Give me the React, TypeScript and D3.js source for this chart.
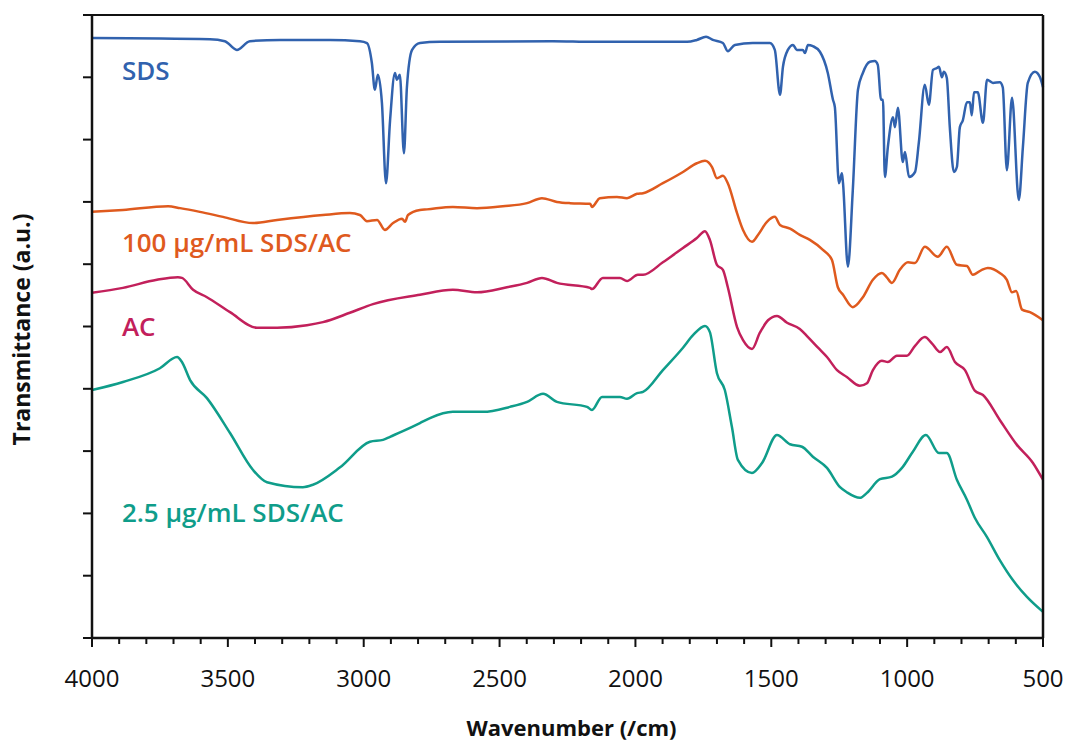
import React from "react";
import * as d3 from "d3";

const width = 1067;
const height = 744;
const margin = { top: 15, right: 24, bottom: 106, left: 92 };

// [wavenumber (/cm), transmittance (a.u.)]
const sds: [number, number][] = [
  [4000, 96.3], [3566, 96.1], [3511, 95.8], [3467, 94.4], [3419, 95.8], [3308, 96.0],
  [3124, 96.0], [3014, 95.8], [2988, 95.5], [2970, 92.3], [2959, 88.0], [2948, 90.4],
  [2933, 85.9], [2918, 73.0], [2903, 83.1], [2885, 90.7], [2878, 89.6], [2867, 90.4],
  [2852, 77.8], [2841, 88.4], [2822, 94.4], [2793, 95.5], [2719, 95.7], [2304, 95.8],
  [2156, 95.7], [1810, 95.7], [1774, 96.0], [1740, 96.5], [1715, 96.0], [1678, 95.5],
  [1660, 94.2], [1634, 95.2], [1568, 95.5], [1505, 95.5], [1487, 94.4], [1468, 87.2],
  [1457, 91.7], [1439, 94.4], [1420, 95.2], [1406, 94.4], [1384, 94.4], [1376, 93.9],
  [1365, 95.2], [1347, 95.0], [1321, 94.1], [1292, 90.7], [1273, 86.4], [1266, 85.2],
  [1251, 73.0], [1240, 74.6], [1236, 73.0], [1218, 59.6], [1200, 71.9], [1181, 88.0],
  [1163, 90.7], [1137, 92.5], [1119, 92.6], [1108, 92.0], [1096, 86.4], [1089, 86.4],
  [1082, 74.0], [1071, 78.8], [1052, 83.6], [1045, 82.0], [1034, 85.1], [1016, 76.4],
  [1008, 78.0], [993, 74.0], [971, 74.8], [957, 79.5], [935, 88.8], [920, 85.6],
  [905, 91.2], [890, 91.5], [883, 91.7], [872, 90.0], [865, 90.9], [854, 89.9],
  [843, 82.0], [828, 74.8], [817, 75.6], [806, 82.0], [795, 83.1], [780, 86.0],
  [769, 86.0], [762, 83.9], [754, 87.6], [740, 87.6], [721, 82.7], [706, 89.6],
  [684, 89.1], [659, 89.2], [648, 88.4], [633, 75.1], [614, 86.7], [589, 70.3],
  [574, 78.8], [556, 89.1], [530, 90.9], [511, 90.0], [500, 88.4],
];

const sdsAc100: [number, number][] = [
  [4000, 68.4], [3886, 68.7], [3720, 69.3], [3676, 69.0], [3603, 68.4], [3518, 67.6],
  [3408, 66.6], [3319, 67.1], [3150, 67.9], [3051, 68.2], [3014, 67.9], [2988, 66.9],
  [2951, 67.1], [2922, 65.5], [2892, 66.6], [2859, 67.3], [2848, 66.8], [2837, 67.9],
  [2793, 68.7], [2767, 68.8], [2672, 69.2], [2583, 69.0], [2488, 69.3], [2399, 69.8],
  [2344, 70.6], [2289, 70.0], [2241, 69.8], [2167, 69.7], [2160, 69.2], [2131, 70.6],
  [2068, 70.8], [2031, 70.6], [1994, 71.3], [1972, 71.4], [1899, 73.0], [1825, 74.8],
  [1774, 76.2], [1744, 76.6], [1718, 75.6], [1700, 73.8], [1678, 74.2], [1660, 73.0],
  [1626, 68.2], [1604, 65.5], [1571, 63.6], [1549, 64.7], [1516, 66.8], [1487, 67.6],
  [1468, 66.3], [1431, 65.7], [1395, 64.7], [1358, 63.9], [1310, 62.3], [1277, 60.7],
  [1255, 56.3], [1236, 55.1], [1200, 53.1], [1163, 54.7], [1126, 57.5], [1093, 58.6],
  [1075, 57.9], [1056, 57.0], [1027, 59.1], [997, 60.3], [971, 60.2], [935, 62.8],
  [887, 61.2], [854, 62.8], [817, 59.9], [780, 59.7], [758, 58.3], [725, 59.1],
  [703, 59.4], [659, 58.6], [633, 57.5], [614, 55.5], [599, 55.7], [577, 52.7],
  [548, 52.3], [500, 51.0],
];

const ac: [number, number][] = [
  [4000, 55.4], [3886, 56.2], [3761, 57.5], [3684, 57.9], [3669, 57.8], [3628, 55.9],
  [3577, 54.7], [3492, 52.3], [3393, 49.8], [3319, 49.8], [3209, 50.2], [3150, 50.7],
  [3051, 52.2], [2966, 53.6], [2793, 55.1], [2672, 55.9], [2583, 55.5], [2473, 56.3],
  [2399, 57.0], [2344, 57.8], [2289, 57.0], [2167, 56.2], [2160, 56.0], [2120, 57.8],
  [2057, 57.8], [2031, 57.3], [1991, 58.3], [1972, 58.3], [1899, 60.3], [1825, 62.6],
  [1774, 64.2], [1744, 65.3], [1726, 63.9], [1700, 59.9], [1678, 59.1], [1660, 56.3],
  [1626, 49.9], [1604, 47.8], [1571, 46.4], [1542, 49.0], [1512, 51.0], [1479, 51.7],
  [1442, 50.6], [1395, 49.6], [1365, 48.3], [1328, 46.6], [1295, 45.1], [1258, 43.0],
  [1222, 41.9], [1174, 40.5], [1148, 40.9], [1126, 43.0], [1093, 44.5], [1071, 44.3],
  [1038, 45.3], [1001, 45.3], [971, 46.9], [935, 48.3], [909, 47.3], [879, 45.9],
  [854, 46.7], [824, 44.3], [787, 43.0], [751, 39.7], [721, 39.0], [659, 35.0],
  [596, 31.0], [537, 28.1], [500, 25.4],
];

const sdsAc25: [number, number][] = [
  [4000, 39.8], [3886, 41.1], [3750, 43.3], [3687, 45.1], [3669, 44.3], [3639, 41.4],
  [3577, 38.5], [3492, 32.9], [3408, 27.0], [3356, 25.0], [3224, 24.2], [3187, 24.6],
  [3087, 27.4], [2977, 31.5], [2929, 31.8], [2903, 32.3], [2856, 33.2], [2793, 34.5],
  [2756, 35.3], [2672, 36.3], [2561, 36.3], [2462, 37.1], [2399, 37.9], [2340, 39.2],
  [2289, 37.9], [2178, 37.1], [2160, 36.6], [2123, 38.7], [2057, 38.7], [2031, 38.4],
  [1994, 39.3], [1972, 39.5], [1899, 43.0], [1825, 46.6], [1788, 48.6], [1744, 50.1],
  [1726, 49.1], [1700, 42.5], [1671, 39.8], [1645, 33.9], [1623, 28.6], [1571, 26.5],
  [1534, 28.1], [1479, 32.6], [1431, 31.1], [1387, 30.7], [1347, 29.1], [1295, 27.3],
  [1247, 24.2], [1222, 23.4], [1174, 22.5], [1148, 23.3], [1100, 25.5], [1056, 25.9],
  [1019, 27.3], [979, 29.9], [931, 32.6], [883, 29.7], [854, 29.7], [817, 25.4],
  [780, 22.2], [751, 19.3], [706, 16.2], [659, 12.5], [611, 9.3], [559, 6.6],
  [500, 4.2],
];

const seriesNames = ["SDS", "100 µg/mL SDS/AC", "AC", "2.5 µg/mL SDS/AC"];
const seriesData = [sds, sdsAc100, ac, sdsAc25];
const seriesColors = ["#3162ae", "#df5a1e", "#c2205b", "#0f9d8a"];
// label anchor in data units [wavenumber, transmittance]
const labelPos: [number, number][] = [[3890, 89.5], [3890, 62.0], [3890, 48.4], [3890, 18.6]];

const xTicks = [4000, 3500, 3000, 2500, 2000, 1500, 1000, 500];
const xMinorTicks = d3.range(500, 4001, 100);
const yTicks = d3.range(0, 101, 10);

const font = "'Open Sans', 'Noto Sans', sans-serif";

export default function App() {
  const iw = width - margin.left - margin.right;
  const ih = height - margin.top - margin.bottom;
  const x = d3.scaleLinear().domain([4000, 500]).range([0, iw]);
  const y = d3.scaleLinear().domain([0, 100]).range([ih, 0]);
  const line = d3
    .line<[number, number]>()
    .x((d) => x(d[0]))
    .y((d) => y(d[1]))
    .curve(d3.curveMonotoneX);

  return (
    <svg
      width={width}
      height={height}
      style={{ position: "absolute", left: 0, top: 0, background: "#fff" }}
    >
      <g transform={`translate(${margin.left},${margin.top})`}>
        {seriesData.map((s, i) => (
          <path
            key={seriesNames[i]}
            d={line(s) || ""}
            fill="none"
            stroke={seriesColors[i]}
            strokeWidth={2.5}
            strokeLinejoin="round"
          />
        ))}
        {seriesNames.map((n, i) => (
          <text
            key={n}
            x={x(labelPos[i][0])}
            y={y(labelPos[i][1])}
            fill={seriesColors[i]}
            fontFamily={font}
            fontWeight={600}
            fontSize={26}
          >
            {n}
          </text>
        ))}

        {/* frame */}
        <line x1={0} x2={iw} y1={0} y2={0} stroke="#111" strokeWidth={2} />
        <line x1={iw} x2={iw} y1={0} y2={ih} stroke="#111" strokeWidth={2.5} />
        <line x1={0} x2={0} y1={0} y2={ih} stroke="#111" strokeWidth={2.5} />
        <line x1={0} x2={iw} y1={ih} y2={ih} stroke="#111" strokeWidth={2.5} />

        {yTicks.map((t) => (
          <line key={t} x1={-9} x2={0} y1={y(t)} y2={y(t)} stroke="#111" strokeWidth={2} />
        ))}
        {xMinorTicks.map((t) => (
          <line
            key={t}
            x1={x(t)}
            x2={x(t)}
            y1={ih}
            y2={ih + (t % 500 === 0 ? 9 : 6)}
            stroke="#111"
            strokeWidth={2}
          />
        ))}
        {xTicks.map((t) => (
          <text
            key={t}
            x={x(t)}
            y={ih + 49}
            textAnchor="middle"
            fontFamily={font}
            fontSize={24}
            fill="#111"
          >
            {t}
          </text>
        ))}
        <text
          x={iw / 2 + 4}
          y={ih + 98}
          textAnchor="middle"
          fontFamily={font}
          fontWeight="bold"
          fontSize={22}
          fill="#111"
        >
          Wavenumber (/cm)
        </text>
        <text
          transform={`translate(${-62},${ih / 2 + 3}) rotate(-90)`}
          textAnchor="middle"
          fontFamily={font}
          fontWeight="bold"
          fontSize={23}
          fill="#111"
        >
          Transmittance (a.u.)
        </text>
      </g>
    </svg>
  );
}
